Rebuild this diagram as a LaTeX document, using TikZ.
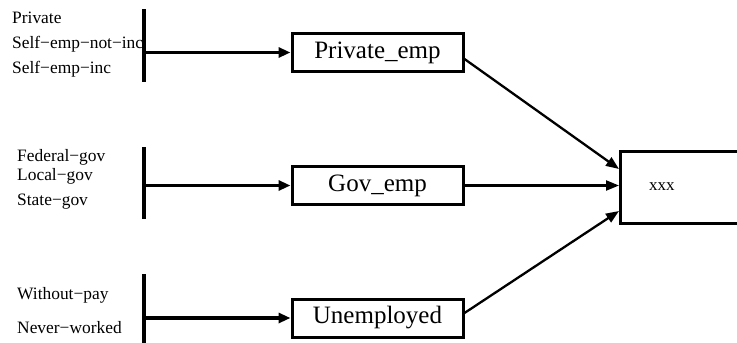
\documentclass[tikz,border=0pt]{standalone}
\usepackage{fontspec}
\setmainfont{Liberation Serif}
\usetikzlibrary{positioning, arrows.meta}

\begin{document}
\begin{tikzpicture}[
    x=1pt, y=1pt,
    catbox/.style={rectangle, draw, line width=3pt, minimum width=171pt, minimum height=38pt, inner sep=0pt, font=\fontsize{25}{30}\selectfont},
    level/.style={anchor=base west, inner sep=0pt, font=\fontsize{17.4}{20}\selectfont},
    bar/.style={line width=3.2pt},
    feed/.style={-{Triangle[length=12pt, width=10pt]}, line width=3.2pt},
    merge/.style={-{Triangle[length=13pt, width=10pt]}, line width=2.3pt}
]
\useasboundingbox (0,0) rectangle (737,-343);

% Grouped boxes
\node[catbox] (priv) at (377.5,-52.5) {Private\_emp};
\node[catbox] (gov) at (377.5,-185.5) {Gov\_emp};
\node[catbox] (unemp) at (377.5,-318) {Unemployed};

% Target box (runs off the right edge)
\node[catbox, minimum width=190pt, minimum height=72pt, anchor=west,
      label={[anchor=west, inner sep=0pt, xshift=30pt, font=\fontsize{17}{20}\selectfont]west:xxx}] (target) at (619,-187) {};

% Private group
\node[level] (l1) at (12,-23) {Private};
\node[level] (l2) at (12,-48) {Self−emp−not−inc};
\node[level] (l3) at (12,-73) {Self−emp−inc};
\coordinate (b1top) at (144,-9);
\coordinate (b1bot) at (144,-82);
\coordinate (b1) at (144,-52.5);
\draw[bar] (b1top) -- (b1bot);
\draw[feed] (b1) -- (b1 -| priv.west);

% Government group
\node[level] (l4) at (17,-161) {Federal−gov};
\node[level] (l5) at (17,-180) {Local−gov};
\node[level] (l6) at (17,-205) {State−gov};
\coordinate (b2top) at (144,-147);
\coordinate (b2bot) at (144,-219);
\coordinate (b2) at (144,-185.5);
\draw[bar] (b2top) -- (b2bot);
\draw[feed] (b2) -- (b2 -| gov.west);

% Unemployed group
\node[level] (l7) at (17,-299) {Without−pay};
\node[level] (l8) at (17,-333) {Never−worked};
\coordinate (b3top) at (144,-274);
\coordinate (b3bot) at (144,-346);
\coordinate (b3) at (144,-318);
\draw[bar] (b3top) -- (b3bot);
\draw[feed] (b3) -- (b3 -| unemp.west);

% Merging edges
\draw[merge] ([yshift=-6.5pt]priv.east) -- ([yshift=18pt]target.west);
\draw[merge] (gov.east) -- ([yshift=1.5pt]target.west);
\draw[merge] ([yshift=5pt]unemp.east) -- ([yshift=-24pt]target.west);

\end{tikzpicture}
\end{document}
